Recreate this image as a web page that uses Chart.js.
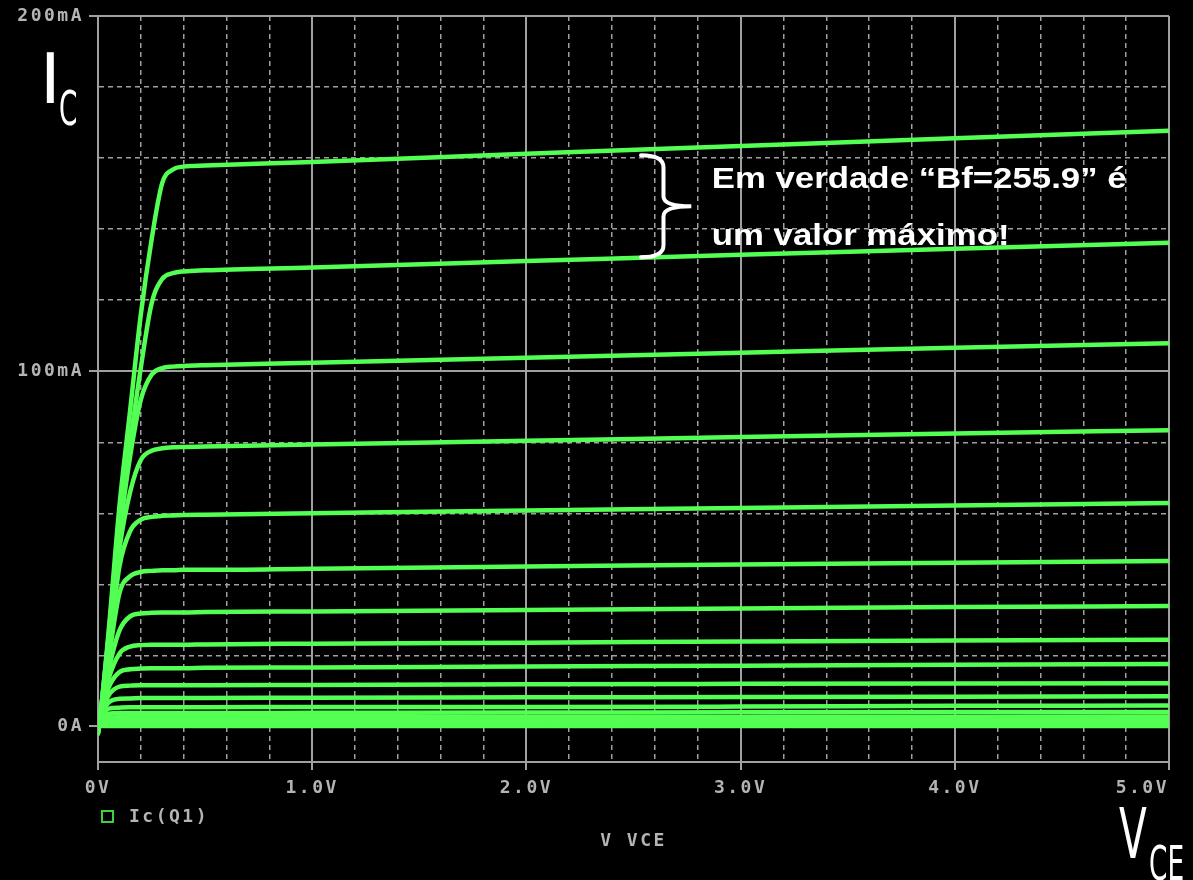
<!DOCTYPE html>
<html>
<head>
<meta charset="utf-8">
<script src="https://cdn.jsdelivr.net/npm/chart.js@4.4.1/dist/chart.umd.min.js"></script>
<style>
  html, body { margin: 0; padding: 0; background: #000; }
  #wrap { width: 1193px; height: 880px; }
</style>
</head>
<body>
<div id="wrap"><canvas id="chart" width="1193" height="880"></canvas></div>
<script>
// V(CE) sample points shared by every curve
const vce = [0, 0.02, 0.05, 0.1, 0.15, 0.2, 0.25, 0.3, 0.35, 0.4, 0.5, 1, 2, 3, 4, 5];

// Ic in mA, one array per base current step (top curve first)
const ic1  = [-2, 8, 27, 62, 89, 116, 137, 153, 156.8, 157.6, 157.9, 158.9, 161.2, 163.4, 165.6, 167.7];
const ic2  = [-2, 8, 26, 58, 80, 101, 119, 126, 127.6, 128.1, 128.4, 129.2, 131, 132.8, 134.5, 136.2];
const ic3  = [-2, 8, 25, 54, 76, 92, 99, 100.9, 101.3, 101.5, 101.7, 102.4, 103.8, 105.2, 106.6, 107.9];
const ic4  = [-1.5, 7, 23, 50, 66, 75, 77.6, 78.3, 78.6, 78.7, 78.8, 79.4, 80.4, 81.5, 82.5, 83.4];
const ic5  = [-1.5, 7, 21, 45, 55, 58.2, 59, 59.3, 59.4, 59.5, 59.6, 60, 60.8, 61.5, 62.2, 62.9];
const ic6  = [-1, 6.5, 19, 37.5, 42.3, 43.5, 43.8, 44, 44, 44.1, 44.1, 44.4, 45, 45.6, 46.1, 46.6];
const ic7  = [-1, 6, 16, 27, 31, 31.8, 32, 32.1, 32.1, 32.1, 32.2, 32.4, 32.8, 33.2, 33.6, 33.9];
const ic8  = [-1, 5.5, 13.5, 20.5, 22.5, 22.9, 23, 23, 23, 23, 23.1, 23.3, 23.6, 23.9, 24.2, 24.4];
const ic9  = [-0.5, 5, 11, 15.3, 16.1, 16.3, 16.4, 16.4, 16.4, 16.4, 16.5, 16.6, 16.9, 17.1, 17.4, 17.6];
const ic10 = [-0.5, 4.5, 8.8, 11.2, 11.5, 11.6, 11.6, 11.6, 11.6, 11.6, 11.6, 11.7, 11.9, 12, 12.1, 12.2];
const ic11 = [-0.5, 4, 6.8, 7.8, 7.9, 8, 8, 8, 8, 8, 8, 8.1, 8.2, 8.3, 8.4, 8.5];
const ic12 = [-0.3, 3.5, 5, 5.3, 5.4, 5.4, 5.4, 5.4, 5.4, 5.4, 5.4, 5.5, 5.5, 5.6, 5.8, 5.9];
const ic13 = [-0.2, 2.8, 3.6, 3.8, 3.8, 3.8, 3.8, 3.8, 3.8, 3.8, 3.8, 3.85, 3.9, 4, 4.05, 4.1];
const ic14 = [-0.1, 2.1, 2.5, 2.6, 2.6, 2.6, 2.6, 2.6, 2.6, 2.6, 2.6, 2.62, 2.66, 2.7, 2.75, 2.8];
const ic15 = [0, 1.5, 1.75, 1.8, 1.8, 1.8, 1.8, 1.8, 1.8, 1.8, 1.8, 1.8, 1.82, 1.85, 1.87, 1.9];
const ic16 = [0, 1, 1.15, 1.2, 1.2, 1.2, 1.2, 1.2, 1.2, 1.2, 1.2, 1.2, 1.22, 1.25, 1.27, 1.3];
const ic17 = [0, 0.7, 0.78, 0.8, 0.8, 0.8, 0.8, 0.8, 0.8, 0.8, 0.8, 0.8, 0.82, 0.83, 0.84, 0.85];
const ic18 = [0, 0.45, 0.5, 0.5, 0.5, 0.5, 0.5, 0.5, 0.5, 0.5, 0.5, 0.5, 0.52, 0.53, 0.54, 0.55];
const ic19 = [0, 0.25, 0.3, 0.3, 0.3, 0.3, 0.3, 0.3, 0.3, 0.3, 0.3, 0.3, 0.3, 0.31, 0.31, 0.32];
const ic20 = [0, 0.1, 0.12, 0.12, 0.12, 0.12, 0.12, 0.12, 0.12, 0.12, 0.12, 0.12, 0.13, 0.14, 0.14, 0.15];

const curves = [ic1, ic2, ic3, ic4, ic5, ic6, ic7, ic8, ic9, ic10,
                ic11, ic12, ic13, ic14, ic15, ic16, ic17, ic18, ic19, ic20];

// axis ticks and labels
const xMajor = [0, 1, 2, 3, 4, 5];
const xMajorLabels = ['0V', '1.0V', '2.0V', '3.0V', '4.0V', '5.0V'];
const yMajor = [0, 100, 200];
const yMajorLabels = ['0A', '100mA', '200mA'];
const xTitle = 'V VCE';
const legendLabel = 'Ic(Q1)';
const note = ['Em verdade \u201cBf=255.9\u201d \u00e9', 'um valor m\u00e1ximo!'];

const GREEN = '#52ff52';
const GRID = '#a0a0a0';
const LABEL = '#b4b4b4';
const monoFont = { family: 'DejaVu Sans Mono', size: 18, weight: 'bold' };

const isMajor = (v, list) => list.some(m => Math.abs(m - v) < 1e-6);

// the PSpice style font is wide, so space the letters a bit
const spacing = {
  id: 'spacing',
  beforeUpdate(chart) { chart.ctx.letterSpacing = '2.5px'; },
  beforeDraw(chart) { chart.ctx.letterSpacing = '2.5px'; }
};

const overlay = {
  id: 'overlay',
  afterDraw(chart) {
    const { ctx, chartArea, scales: { x, y } } = chart;
    ctx.save();

    // legend square + label
    ctx.strokeStyle = '#3fd03f';
    ctx.lineWidth = 2;
    ctx.strokeRect(chartArea.left + 4, 811, 11, 11);
    ctx.fillStyle = LABEL;
    ctx.font = 'bold 18px "DejaVu Sans Mono"';
    ctx.textBaseline = 'middle';
    ctx.fillText(legendLabel, chartArea.left + 31, 817);

    ctx.letterSpacing = '0px';
    ctx.fillStyle = '#fff';

    // I_C
    ctx.font = '70px "DejaVu Sans"';
    ctx.textBaseline = 'alphabetic';
    ctx.fillText('I', 40, 103);
    ctx.save();
    ctx.translate(59, 125);
    ctx.scale(0.55, 1);
    ctx.font = '48px "DejaVu Sans"';
    ctx.fillText('C', 0, 0);
    ctx.restore();

    // V_CE
    ctx.save();
    ctx.translate(1119, 858);
    ctx.scale(0.58, 1);
    ctx.font = '70px "DejaVu Sans"';
    ctx.fillText('V', 0, 0);
    ctx.restore();
    ctx.save();
    ctx.translate(1149, 880);
    ctx.scale(0.55, 1);
    ctx.font = '48px "DejaVu Sans"';
    ctx.fillText('CE', 0, 0);
    ctx.restore();

    // brace between the two top curves
    const bx = x.getPixelForValue(2.535);
    const vx = x.getPixelForValue(2.64);
    const tx = x.getPixelForValue(2.77);
    const top = y.getPixelForValue(160.8);
    const bot = y.getPixelForValue(132.1);
    const mid = (top + bot) / 2;
    ctx.strokeStyle = '#fff';
    ctx.lineWidth = 4;
    ctx.lineCap = 'round';
    ctx.beginPath();
    ctx.moveTo(bx, top);
    ctx.quadraticCurveTo(vx, top, vx, top + 12);
    ctx.lineTo(vx, mid - 10);
    ctx.quadraticCurveTo(vx, mid, tx, mid);
    ctx.quadraticCurveTo(vx, mid, vx, mid + 10);
    ctx.lineTo(vx, bot - 12);
    ctx.quadraticCurveTo(vx, bot, bx, bot);
    ctx.stroke();

    // note text
    ctx.font = 'bold 29px "Liberation Sans"';
    const nx = x.getPixelForValue(2.865);
    [151.5, 135.5].forEach((v, i) => {
      ctx.save();
      ctx.translate(nx, y.getPixelForValue(v));
      ctx.scale(1.2, 1);
      ctx.fillText(note[i], 0, 0);
      ctx.restore();
    });

    ctx.restore();
  }
};

const datasets = curves.map((c, i) => ({
  label: i === 0 ? legendLabel : '',
  data: vce.map((v, j) => ({ x: v, y: c[j] })),
  borderColor: GREEN,
  borderWidth: 4.5,
  pointRadius: 0,
  cubicInterpolationMode: 'monotone',
  borderJoinStyle: 'round',
  borderCapStyle: 'round'
}));

new Chart(document.getElementById('chart'), {
  type: 'line',
  data: { datasets },
  plugins: [spacing, overlay],
  options: {
    responsive: false,
    animation: false,
    layout: { padding: { top: 16, right: 24, left: 0, bottom: 0 } },
    plugins: {
      legend: { display: false },
      tooltip: { enabled: false }
    },
    scales: {
      x: {
        type: 'linear',
        min: 0,
        max: 5,
        afterBuildTicks: s => {
          const t = [];
          for (let k = 0; k <= 25; k++) t.push({ value: k / 5 });
          s.ticks = t;
        },
        afterFit: s => {
          s.height = 118;
          s.paddingLeft = 0;
          s.paddingRight = 0;
        },
        ticks: {
          autoSkip: false,
          maxRotation: 0,
          padding: 8,
          color: LABEL,
          font: monoFont,
          callback: v => {
            const i = xMajor.findIndex(m => Math.abs(m - v) < 1e-6);
            if (i < 0) return '';
            // last label sits left of its tick, as in the plot
            return i === xMajor.length - 1 ? xMajorLabels[i] + '    ' : xMajorLabels[i];
          }
        },
        grid: {
          color: GRID,
          lineWidth: c => (c.tick && isMajor(c.tick.value, xMajor)) ? 2 : 1.5,
          tickLength: 8,
          tickColor: c => (c.tick && isMajor(c.tick.value, xMajor)) ? GRID : 'transparent',
          tickBorderDash: []
        },
        border: {
          color: GRID,
          width: 2,
          dash: c => (c.tick && !isMajor(c.tick.value, xMajor)) ? [5, 4] : []
        },
        title: {
          display: true,
          text: xTitle,
          color: LABEL,
          font: monoFont,
          padding: { top: 0, bottom: 28 }
        }
      },
      y: {
        type: 'linear',
        min: -10,
        max: 200,
        afterBuildTicks: s => {
          const t = [];
          for (let k = 0; k <= 10; k++) t.push({ value: k * 20 });
          s.ticks = t;
        },
        afterFit: s => {
          s.width = 98;
          s.paddingTop = 0;
          s.paddingBottom = 0;
        },
        ticks: {
          autoSkip: false,
          padding: 5,
          color: LABEL,
          font: monoFont,
          callback: v => {
            const i = yMajor.findIndex(m => Math.abs(m - v) < 1e-6);
            return i < 0 ? '' : yMajorLabels[i];
          }
        },
        grid: {
          color: GRID,
          lineWidth: c => (c.tick && isMajor(c.tick.value, yMajor)) ? 2 : 1.5,
          tickLength: 9,
          tickColor: c => (c.tick && isMajor(c.tick.value, yMajor)) ? GRID : 'transparent',
          tickBorderDash: []
        },
        border: {
          color: GRID,
          width: 2,
          dash: c => (c.tick && !isMajor(c.tick.value, yMajor)) ? [5, 4] : []
        }
      }
    }
  }
});
</script>
</body>
</html>
